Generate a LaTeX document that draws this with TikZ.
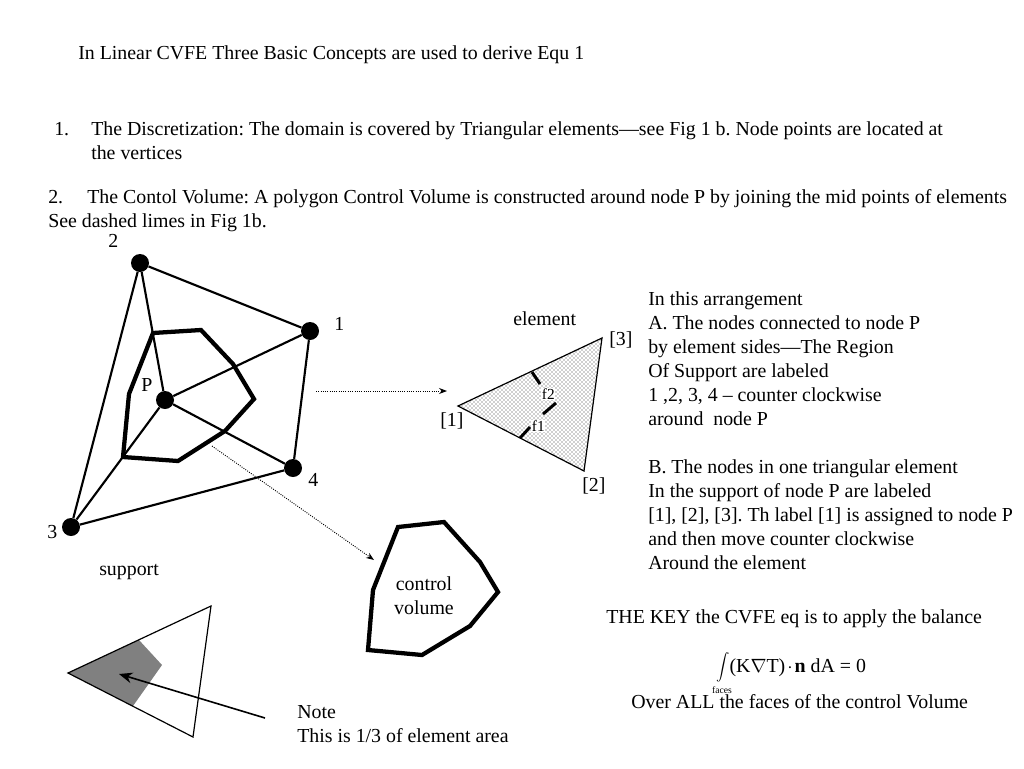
\documentclass[tikz,border=0pt]{standalone}
\usepackage{fontspec}
\setmainfont{Liberation Serif}
\usetikzlibrary{arrows.meta,patterns}
\definecolor{shadeink}{HTML}{808080}
\frenchspacing

\begin{document}
\begin{tikzpicture}[
  x=0.75pt,
  y=-0.75pt,
  every node/.style={inner sep=0pt, font=\fontsize{14.9}{18}\selectfont},
  txt/.style={anchor=base west, align=left},
  small/.style={anchor=base west, font=\fontsize{11.5}{14}\selectfont},
  dot/.style={circle, fill=black, minimum size=13.5pt},
  side/.style={black, line width=1.6pt},
  thin side/.style={black, line width=0.9pt},
  volume/.style={black, line width=3.2pt, line join=miter},
  facet/.style={black, line width=2.2pt},
  pointer/.style={black, densely dotted, line width=0.7pt, -{Stealth[length=6pt]}},
  note arrow/.style={black, line width=1.2pt, -{Stealth[length=10pt, width=8pt]}}
]
  \useasboundingbox (0,0) rectangle (1024,768);

  % ---- text at the top -------------------------------------------------
  \node[txt] (title) at (78,59) {In Linear CVFE Three Basic Concepts are used to derive Equ 1};
  \node[txt] (numone) at (54,135) {1.};
  \node[txt] (discr) at (91,159) {The Discretization: The domain is covered by Triangular elements—see Fig 1 b. Node points are located at\\the vertices};
  \node[txt] (numtwo) at (48,203) {2.};
  \node[txt] (contol) at (87,203) {The Contol Volume: A polygon Control Volume is constructed around node P by joining the mid points of elements};
  \node[txt] (dashed) at (48,227) {See dashed limes in Fig 1b.};

  % ---- the support of node P -------------------------------------------
  \node[dot] (n1) at (310,331) {};
  \node[dot] (n2) at (140,263) {};
  \node[dot] (n3) at (71,527) {};
  \node[dot] (n4) at (293,468) {};
  \node[dot] (nP) at (165,400) {};
  \draw[side] (n2) -- (n1) -- (n4) -- (n3) -- (n2);
  \foreach \n in {n1,n2,n3,n4}
    \draw[side] (nP) -- (\n);
  \draw[volume] (153,333) -- (201,330) -- (233,364) -- (254,399) -- (225,431)
    -- (178,461) -- (123,457) -- (129,394) -- cycle;
  \node[txt] (lab1) at (334,330) {1};
  \node[txt] (lab2) at (108,247) {2};
  \node[txt] (lab3) at (47,538) {3};
  \node[txt] (lab4) at (308,486) {4};
  \node[txt] (labP) at (141,391) {P};
  \node[txt] (support) at (99,575) {support};

  % ---- one element -----------------------------------------------------
  \coordinate (e1) at (458,406);
  \coordinate (e2) at (584,471);
  \coordinate (e3) at (602,338);
  \fill[pattern=crosshatch dots, pattern color=black!80] (e1) -- (e2) -- (e3) -- cycle;
  \draw[thin side] (e1) -- (e2) -- (e3) -- cycle;
  \draw[facet] (532,372) -- (540,384);
  \draw[facet] (543,414) -- (556,403);
  \draw[facet] (520,438) -- (530,427);
  \node[small, fill=white, inner sep=0.5pt] (f2) at (541,399) {f2};
  \node[small, fill=white, inner sep=0.5pt] (f1) at (531,431) {f1};
  \node[txt] (element) at (513,325) {element};
  \node[txt] (ind3) at (609,345) {[3]};
  \node[txt] (ind1) at (440,426) {[1]};
  \node[txt] (ind2) at (582,491) {[2]};

  % ---- the two dotted pointers -----------------------------------------
  \coordinate (pa) at (316,391);
  \coordinate (pb) at (447,391);
  \coordinate (pc) at (212,446);
  \coordinate (pd) at (374,560);
  \draw[pointer] (pa) -- (pb);
  \draw[pointer] (pc) -- (pd);

  % ---- the control volume on its own -----------------------------------
  \draw[volume] (398,527) -- (444,522) -- (480,562) -- (498,592) -- (470,626)
    -- (422,655) -- (368,650) -- (373,590) -- cycle;
  \node[txt, align=center, anchor=base] (cvlabel) at (424,614) {control\\volume};

  % ---- a third of the element ------------------------------------------
  \fill[shadeink] (68,673) -- (139,640) -- (162,665) -- (133,706) -- cycle;
  \draw[thin side] (68,673) -- (211,606) -- (193,737) -- cycle;
  \coordinate (na) at (265,718);
  \coordinate (nb) at (119,674);
  \draw[note arrow] (na) -- (nb);
  \node[txt] (note) at (297,742) {Note\\This is 1/3 of element area};

  % ---- text on the right -----------------------------------------------
  \node[txt] (arrange) at (648,569) {In this arrangement\\
    A. The nodes connected to node P\\
    by element sides—The Region\\
    Of Support are labeled\\
    1 ,2, 3, 4 – counter clockwise\\
    around~ node P\\
    \\
    B. The nodes in one triangular element\\
    In the support of node P are labeled\\
    {[1], [2], [3]}. Th label [1] is assigned to node P\\
    and then move counter clockwise\\
    Around the element};
  \node[txt] (key) at (606,623) {THE KEY the CVFE eq is to apply the balance};
  \node[txt] (balance) at (716,672) {$\displaystyle\int$(K$\nabla$T)\kern0.1em$\cdot$\kern0.1em\textbf{n} dA = 0};
  \node[anchor=base, font=\fontsize{7.2}{8}\selectfont] (faces) at (722,693) {faces};
  \node[txt] (overall) at (631,708) {Over ALL the faces of the control Volume};
\end{tikzpicture}
\end{document}
